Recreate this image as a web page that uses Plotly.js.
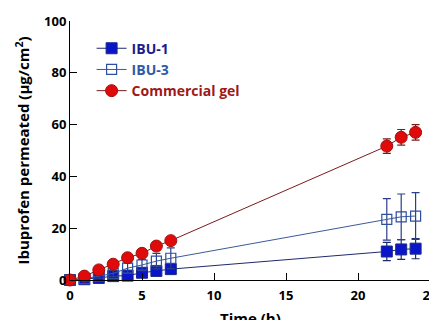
<!DOCTYPE html>
<html><head><meta charset="utf-8">
<script src="https://cdn.plot.ly/plotly-3.0.1.min.js"></script>
<style>html,body{margin:0;padding:0;overflow:hidden;background:#fff;}#chart{width:432px;height:320px;}</style>
</head><body><div id="chart"></div>
<script>
const time = [0, 1, 2, 3, 4, 5, 6, 7, 22, 23, 24];
const ibu1 = [0, 0.3, 0.8, 1.5, 1.7, 2.8, 3.5, 4.2, 11.0, 11.8, 12.1];
const ibu1Err = [0.3, 0.4, 0.6, 0.8, 1.0, 1.2, 1.5, 1.8, 3.5, 3.8, 3.9];
const ibu3 = [0, 0.5, 1.5, 2.5, 4.6, 5.8, 7.3, 8.4, 23.4, 24.4, 24.7];
const ibu3Err = [0.3, 0.5, 0.8, 1.2, 2.0, 2.2, 3.0, 4.0, 8.0, 8.8, 9.0];
const gel = [0, 1.5, 3.9, 6.1, 8.6, 10.3, 13.1, 15.2, 51.7, 55.1, 57.0];
const gelErr = [0.3, 0.5, 0.6, 0.7, 0.8, 0.8, 0.9, 1.0, 2.8, 3.0, 3.0];
const xTitle = 'Time (h)';
const yTitle = 'Ibuprofen permeated (μg/cm<sup>2</sup>)';

const font = '"Open Sans", Lato, sans-serif';
const traces = [
  {x: time, y: ibu1, name: '<span style="color:#1c1c8c">IBU-1</span>', mode: 'lines+markers',
   line: {color: '#1f2a6b', width: 1},
   marker: {symbol: 'square', size: 11, color: '#0a14c8', line: {color: '#1a2a8a', width: 1}},
   error_y: {type: 'data', array: ibu1Err, visible: true, color: '#1f2a6b', thickness: 1.2, width: 4}},
  {x: time, y: ibu3, name: '<span style="color:#2e5aa8">IBU-3</span>', mode: 'lines+markers',
   line: {color: '#3a5a9a', width: 1},
   marker: {symbol: 'square-open', size: 10, color: '#2e4e9e', line: {width: 1.2}},
   error_y: {type: 'data', array: ibu3Err, visible: true, color: '#2a3f8a', thickness: 1.2, width: 4}},
  {x: time, y: gel, name: '<span style="color:#a01818">Commercial gel</span>', mode: 'lines+markers',
   line: {color: '#7b1b1b', width: 1},
   marker: {symbol: 'circle', size: 12, color: '#e00a0a', line: {color: '#a01010', width: 1}},
   error_y: {type: 'data', array: gelErr, visible: true, color: '#7b1b1b', thickness: 1.2, width: 4}}
];

const layout = {
  width: 432, height: 320,
  margin: {l: 70, r: 2, t: 21, b: 40},
  paper_bgcolor: '#fff', plot_bgcolor: '#fff',
  font: {family: font, size: 12, color: '#000'},
  showlegend: true,
  legend: {x: 0.06, y: 0.955, xanchor: 'left', yanchor: 'top', bgcolor: 'rgba(0,0,0,0)',
           font: {family: font, size: 14, weight: 'bold'}, tracegroupgap: 0},
  xaxis: {range: [0, 25], tickvals: [0, 5, 10, 15, 20, 25], ticks: 'inside', ticklen: 7, tickwidth: 1,
          ticklabeloverflow: 'allow', ticklabelstandoff: 3,
          tickcolor: '#000', showline: true, linecolor: '#000', linewidth: 1, showgrid: false, zeroline: false,
          tickfont: {family: font, size: 13, weight: 'bold'}},
  yaxis: {range: [0, 100], tickvals: [0, 20, 40, 60, 80, 100], ticks: 'inside', ticklen: 7, tickwidth: 1,
          tickcolor: '#000', showline: true, linecolor: '#000', linewidth: 1, showgrid: false, zeroline: false,
          tickfont: {family: font, size: 13, weight: 'bold'},
          title: {text: yTitle, font: {family: font, size: 15, weight: 'bold'}, standoff: 10}},
  annotations: [{text: xTitle, xref: 'paper', yref: 'paper', x: 0.5, y: -0.148, xanchor: 'center', yanchor: 'middle',
                 showarrow: false, font: {family: font, size: 15, weight: 'bold', color: '#000'}}]
};
traces.forEach(t => t.cliponaxis = false);
Plotly.newPlot('chart', traces, layout, {displayModeBar: false, staticPlot: true});
</script></body></html>
